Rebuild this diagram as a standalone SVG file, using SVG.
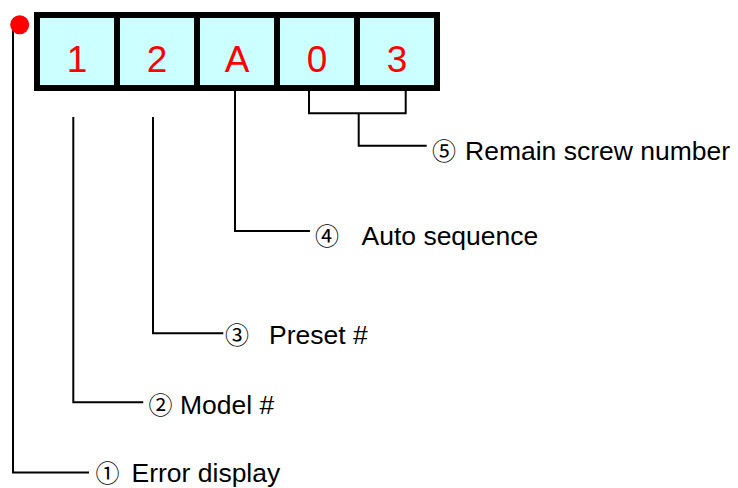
<svg xmlns="http://www.w3.org/2000/svg" width="738" height="488" viewBox="0 0 738 488">
<style>
.cell{fill:#CCFFFF;}
.dig{font-family:"Liberation Sans",Arial,sans-serif;font-size:37px;fill:#FF0000;text-anchor:middle;}
.lbl{font-family:"Liberation Sans",Arial,sans-serif;font-size:26.5px;fill:#000;}
.num{font-family:"Noto Sans CJK JP","DejaVu Sans",sans-serif;font-size:24px;}
.ln{fill:none;stroke:#000;stroke-width:2;}
</style>
<rect width="738" height="488" fill="#fff"/>
<g id="display">
<rect x="34" y="12" width="406" height="79" fill="#000"/>
<rect class="cell" x="40" y="18" width="74" height="67"/>
<rect class="cell" x="120" y="18" width="74" height="67"/>
<rect class="cell" x="200" y="18" width="74" height="67"/>
<rect class="cell" x="280" y="18" width="74" height="67"/>
<rect class="cell" x="360" y="18" width="74" height="67"/>
<text class="dig" x="77" y="72">1</text>
<text class="dig" x="157" y="72">2</text>
<text class="dig" x="237" y="72">A</text>
<text class="dig" x="317" y="72">0</text>
<text class="dig" x="397" y="72">3</text>
</g>
<g id="connectors">
<path class="ln" d="M13,25 V472.5 H89"/>
<path class="ln" d="M73.3,117 V402.3 H143.3"/>
<path class="ln" d="M153,117 V333.3 H223.3"/>
<path class="ln" d="M235,91 V231 H310"/>
<path class="ln" d="M309,91 V113.3 H405.7 V91"/>
<path class="ln" d="M358.7,113.3 V145.7 H426.7"/>
</g>
<g id="dot"><circle cx="19.7" cy="24.7" r="9.5" fill="#FF0000"/></g>
<g id="label5"><text class="lbl" y="160"><tspan class="num" x="432">⑤</tspan><tspan x="465">Remain screw number</tspan></text></g>
<g id="label4"><text class="lbl" y="245"><tspan class="num" x="315">④</tspan><tspan x="361.5">Auto sequence</tspan></text></g>
<g id="label3"><text class="lbl" y="344"><tspan class="num" x="225">③</tspan><tspan x="269">Preset #</tspan></text></g>
<g id="label2"><text class="lbl" y="414"><tspan class="num" x="148.5">②</tspan><tspan x="180">Model #</tspan></text></g>
<g id="label1"><text class="lbl" y="482"><tspan class="num" x="95.5">①</tspan><tspan x="131.5">Error display</tspan></text></g>
</svg>
